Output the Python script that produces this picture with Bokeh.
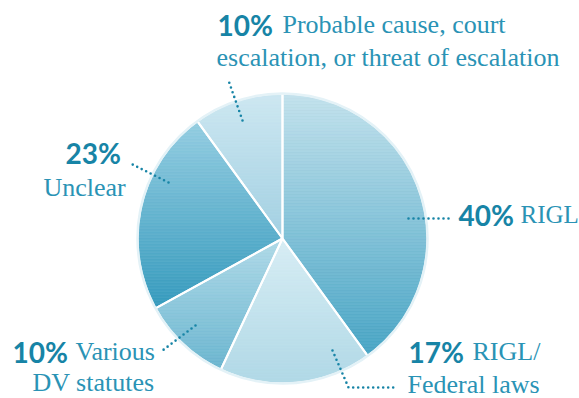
import numpy as np
from bokeh.plotting import figure
from bokeh.models import ColumnDataSource, Range1d
from bokeh.core.properties import value
from bokeh.embed import file_html
from bokeh.resources import INLINE

# ---------------- data ----------------
categories = ["RIGL", "RIGL/Federal laws", "Various DV statutes", "Unclear",
              "Probable cause, court escalation, or threat of escalation"]
percents = [40, 17, 10, 23, 10]
pct_labels = ["40%", "17%", "10%", "23%", "10%"]
# label text split into lines (first line follows the bold percentage)
label_lines = [["RIGL"], ["RIGL/", "Federal laws"], ["Various", "DV statutes"],
               ["", "Unclear"], ["Probable cause, court", "escalation, or threat of escalation"]]
top_colors = ["#c2e1ec", "#d7edf4", "#afd9e7", "#94cde1", "#cde7f1"]
bottom_colors = ["#47a4c4", "#b0d8e6", "#6ab5cf", "#359abd", "#a2d0e2"]

# ---------------- layout ----------------
W, H = 579, 398
CX, CY, R = 282, 398 - 238, 145
PCT_COLOR = "#1784a6"
TXT_COLOR = "#2a93b5"
DY = 11  # baseline correction

p = figure(width=W, height=H, x_range=Range1d(0, W), y_range=Range1d(0, H),
           output_backend="svg", toolbar_location=None,
           x_axis_type=None, y_axis_type=None, min_border=0)
p.outline_line_color = None
p.xgrid.visible = False
p.ygrid.visible = False
p.background_fill_color = "white"


def hex2rgb(h):
    h = h.lstrip("#")
    return np.array([int(h[i:i + 2], 16) for i in (0, 2, 4)], dtype=float)


def rgb2hex(c):
    return "#%02x%02x%02x" % tuple(int(round(v)) for v in c)


def clip(poly, yv, keep_above):
    out = []
    n = len(poly)
    for i in range(n):
        a = poly[i]
        b = poly[(i + 1) % n]
        ina = a[1] >= yv if keep_above else a[1] <= yv
        inb = b[1] >= yv if keep_above else b[1] <= yv
        if ina:
            out.append(a)
        if ina != inb:
            t = (yv - a[1]) / (b[1] - a[1])
            out.append((a[0] + t * (b[0] - a[0]), yv))
    return out


fractions = np.array(percents, dtype=float) / sum(percents)
ends = np.cumsum(fractions)
starts = ends - fractions

xs_all, ys_all, cols = [], [], []
for i in range(len(percents)):
    th = np.linspace(starts[i], ends[i], 120) * 2 * np.pi
    poly = [(CX, CY)] + [(CX + R * np.sin(t), CY + R * np.cos(t)) for t in th]
    ymin = min(pt[1] for pt in poly)
    ymax = max(pt[1] for pt in poly)
    c0, c1 = hex2rgb(top_colors[i]), hex2rgb(bottom_colors[i])
    step = 1.5
    y = ymin
    while y < ymax:
        y2 = min(y + step, ymax)
        piece = clip(clip(poly, y, True), y2, False)
        if len(piece) >= 3:
            t = (ymax - (y + y2) / 2) / (ymax - ymin)
            xs_all.append([pt[0] for pt in piece])
            ys_all.append([pt[1] for pt in piece])
            cols.append(rgb2hex(c0 + (c1 - c0) * t))
        y = y2

p.patches(xs="xs", ys="ys", fill_color="c", line_color="c", line_width=0.8,
          source=ColumnDataSource(dict(xs=xs_all, ys=ys_all, c=cols)))

# separators and rim
p.wedge(x=CX, y=CY, radius=R,
        start_angle=[np.pi / 2 - s * 2 * np.pi for s in starts],
        end_angle=[np.pi / 2 - e * 2 * np.pi for e in ends],
        direction="clock", fill_alpha=0, line_color="white", line_width=2)
p.circle(x=CX, y=CY, radius=R, fill_alpha=0, line_color="#e4f2f7", line_width=2.5)

# leader lines (screen px, y down)
leaders = [
    [(408, 218), (450, 218)],
    [(332, 350), (348, 387), (397, 387)],
    [(195, 325), (162, 350)],
    [(168, 182), (130, 163)],
    [(242, 120), (228, 80)],
]
for pts in leaders:
    p.line([q[0] for q in pts], [H - q[1] for q in pts], line_color=PCT_COLOR,
           line_width=2.6, line_dash="0 5", line_cap="round")

# labels: (pct x, pct baseline, first-line x, second-line x, second-line baseline, first-line size)
label_pos = [
    (458, 225, 520, None, None, "25px"),
    (408, 362, 472, 407, 395, "26px"),
    (12, 362, 75, 32, 393, "26px"),
    (65, 163, None, 43, 198, "26px"),
    (217, 35, 282, 216, 68, "26px"),
]
for i, (px, py, lx, l2x, l2y, fs) in enumerate(label_pos):
    p.text(x=[px], y=[H - py + DY], text=[pct_labels[i]], text_font=value("Lato"),
           text_font_style="bold", text_font_size="28px", text_color=PCT_COLOR,
           text_baseline="alphabetic")
    lines = label_lines[i]
    if lx is not None and lines[0]:
        p.text(x=[lx], y=[H - py + DY], text=[lines[0]], text_font=value("Liberation Serif"),
               text_font_size=fs, text_color=TXT_COLOR, text_baseline="alphabetic")
    if l2x is not None and len(lines) > 1:
        p.text(x=[l2x], y=[H - l2y + DY], text=[lines[1]], text_font=value("Liberation Serif"),
               text_font_size="26px", text_color=TXT_COLOR, text_baseline="alphabetic")

open("out.html", "w").write(file_html(p, INLINE))
